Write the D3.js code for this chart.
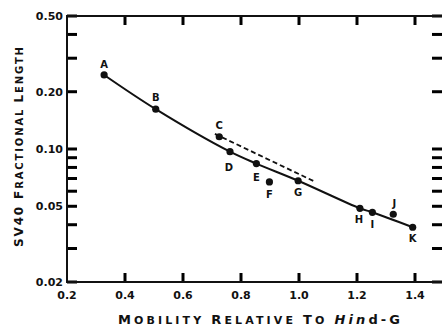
<!DOCTYPE html>
<html>
<head>
<meta charset="utf-8">
<script src="https://cdn.jsdelivr.net/npm/d3@7"></script>
<style>
  body { margin: 0; background: #fff; }
  text { font-family: "DejaVu Sans", sans-serif; font-weight: bold; fill: #111; }
</style>
</head>
<body>
<div id="chart"></div>
<script>
// fragment names and measured points
var names    = ["A", "B", "C", "D", "E", "F", "G", "H", "I", "J", "K"];
var mobility = [0.328, 0.506, 0.725, 0.762, 0.853, 0.898, 0.997, 1.21, 1.253, 1.325, 1.392];
var fracLen  = [0.245, 0.162, 0.116, 0.0968, 0.0838, 0.0671, 0.0681, 0.0488, 0.0465, 0.0454, 0.0388];
// points the solid curve runs through
var onCurve  = ["A", "B", "D", "E", "G", "H", "I", "K"];
// dashed segment
var dashX    = [0.71, 1.055];
var dashY    = [0.120, 0.0673];
// axis ticks
var xTicks   = [0.2, 0.4, 0.6, 0.8, 1.0, 1.2, 1.4];
var yMajor   = [0.5, 0.2, 0.1, 0.05, 0.02];
var yMinor   = [0.4, 0.3, 0.09, 0.08, 0.07, 0.06, 0.04, 0.03];

var W = 442, H = 326;
var svg = d3.select("#chart").append("svg")
  .attr("width", W).attr("height", H);

var x = d3.scaleLinear().domain([0.2, 1.5]).range([67, 444]);
var y = d3.scaleLog().domain([0.02, 0.5]).range([282, 16]);

var pts = names.map(function(n, i){ return {name: n, x: mobility[i], y: fracLen[i]}; });
var yVals = yMajor.concat(yMinor);
var ink = "#111";

var x0 = x.range()[0], x1 = x.range()[1], yb = y.range()[0], ytop = y.range()[1];

// tick marks (inward), drawn as thick short strokes
var tk = svg.append("g").attr("class", "ticks")
  .style("stroke", "#000").style("stroke-width", "3px").style("fill", "none");
yVals.forEach(function(d){
  tk.append("line").attr("x1", x0).attr("x2", x0 + 10).attr("y1", y(d)).attr("y2", y(d));
  tk.append("line").attr("x1", x1 - 12).attr("x2", x1 - 1).attr("y1", y(d)).attr("y2", y(d));
});
xTicks.slice(1).forEach(function(d){
  tk.append("line").attr("x1", x(d)).attr("x2", x(d)).attr("y1", yb).attr("y2", yb - 9);
  tk.append("line").attr("x1", x(d)).attr("x2", x(d)).attr("y1", ytop).attr("y2", ytop + 9);
});

// frame
svg.append("path")
  .attr("d", "M" + x1 + "," + ytop + "H" + x0 + "V" + yb + "H" + x1)
  .attr("fill", "none").attr("stroke", ink).attr("stroke-width", 2);

// tick labels
svg.selectAll("text.yl").data(yMajor).enter().append("text")
  .attr("class", "yl")
  .attr("x", x0 - 4)
  .attr("y", function(d){ return y(d) + 4; })
  .attr("text-anchor", "end")
  .style("font-size", "11px")
  .text(function(d){ return d.toFixed(2); });
svg.selectAll("text.xl").data(xTicks).enter().append("text")
  .attr("class", "xl")
  .attr("x", function(d){ return x(d); })
  .attr("y", yb + 17)
  .attr("text-anchor", "middle")
  .style("font-size", "11px")
  .text(function(d){ return d.toFixed(1); });

// solid curve
var line = d3.line()
  .x(function(d){ return x(d.x); })
  .y(function(d){ return y(d.y); })
  .curve(d3.curveCatmullRom.alpha(0.5));
svg.append("path")
  .datum(pts.filter(function(d){ return onCurve.indexOf(d.name) >= 0; }))
  .attr("d", line)
  .attr("fill", "none").attr("stroke", ink).attr("stroke-width", 2);

// dashed line
svg.append("path")
  .datum(dashX.map(function(v, i){ return {x: v, y: dashY[i]}; }))
  .attr("d", d3.line().x(function(d){ return x(d.x); }).y(function(d){ return y(d.y); }))
  .attr("fill", "none").attr("stroke", ink).attr("stroke-width", 1.8)
  .attr("stroke-dasharray", "5,3");

// points
svg.selectAll("circle.pt").data(pts).enter().append("circle")
  .attr("class", "pt")
  .attr("cx", function(d){ return x(d.x); })
  .attr("cy", function(d){ return y(d.y); })
  .attr("r", 3.6).attr("fill", ink);

// letter labels: offsets from the dot
var labelOff = {
  A:[0,-7], B:[0,-8], C:[0,-8], D:[-1,19], E:[0,17], F:[0,16],
  G:[0,15], H:[-1,15], I:[0,16], J:[1,-7], K:[0,15]
};
svg.selectAll("text.lbl").data(pts).enter().append("text")
  .attr("class", "lbl")
  .attr("x", function(d){ return x(d.x) + labelOff[d.name][0]; })
  .attr("y", function(d){ return y(d.y) + labelOff[d.name][1]; })
  .attr("text-anchor", "middle")
  .style("font-size", "10px")
  .text(function(d){ return d.name; });

// axis titles with small caps
function smallCaps(t, parts, big, small){
  parts.forEach(function(p){
    var s = t.append("tspan").text(p[0]).style("font-size", p[1] ? big + "px" : small + "px");
    if(p[2]) s.style("font-style", "italic");
  });
}
var xt = svg.append("text")
  .attr("x", 118).attr("y", 324)
  .attr("textLength", 282).attr("lengthAdjust", "spacing");
smallCaps(xt, [["M",1],["OBILITY ",0],["R",1],["ELATIVE ",0],["T",1],["O ",0],
               ["Hin",1,1],["d-G",1]], 13, 11);

var yt = svg.append("text")
  .attr("transform", "translate(23,247) rotate(-90)")
  .attr("textLength", 200).attr("lengthAdjust", "spacing");
smallCaps(yt, [["SV40 ",1],["F",1],["RACTIONAL ",0],["L",1],["ENGTH",0]], 12, 10);
</script>
</body>
</html>
